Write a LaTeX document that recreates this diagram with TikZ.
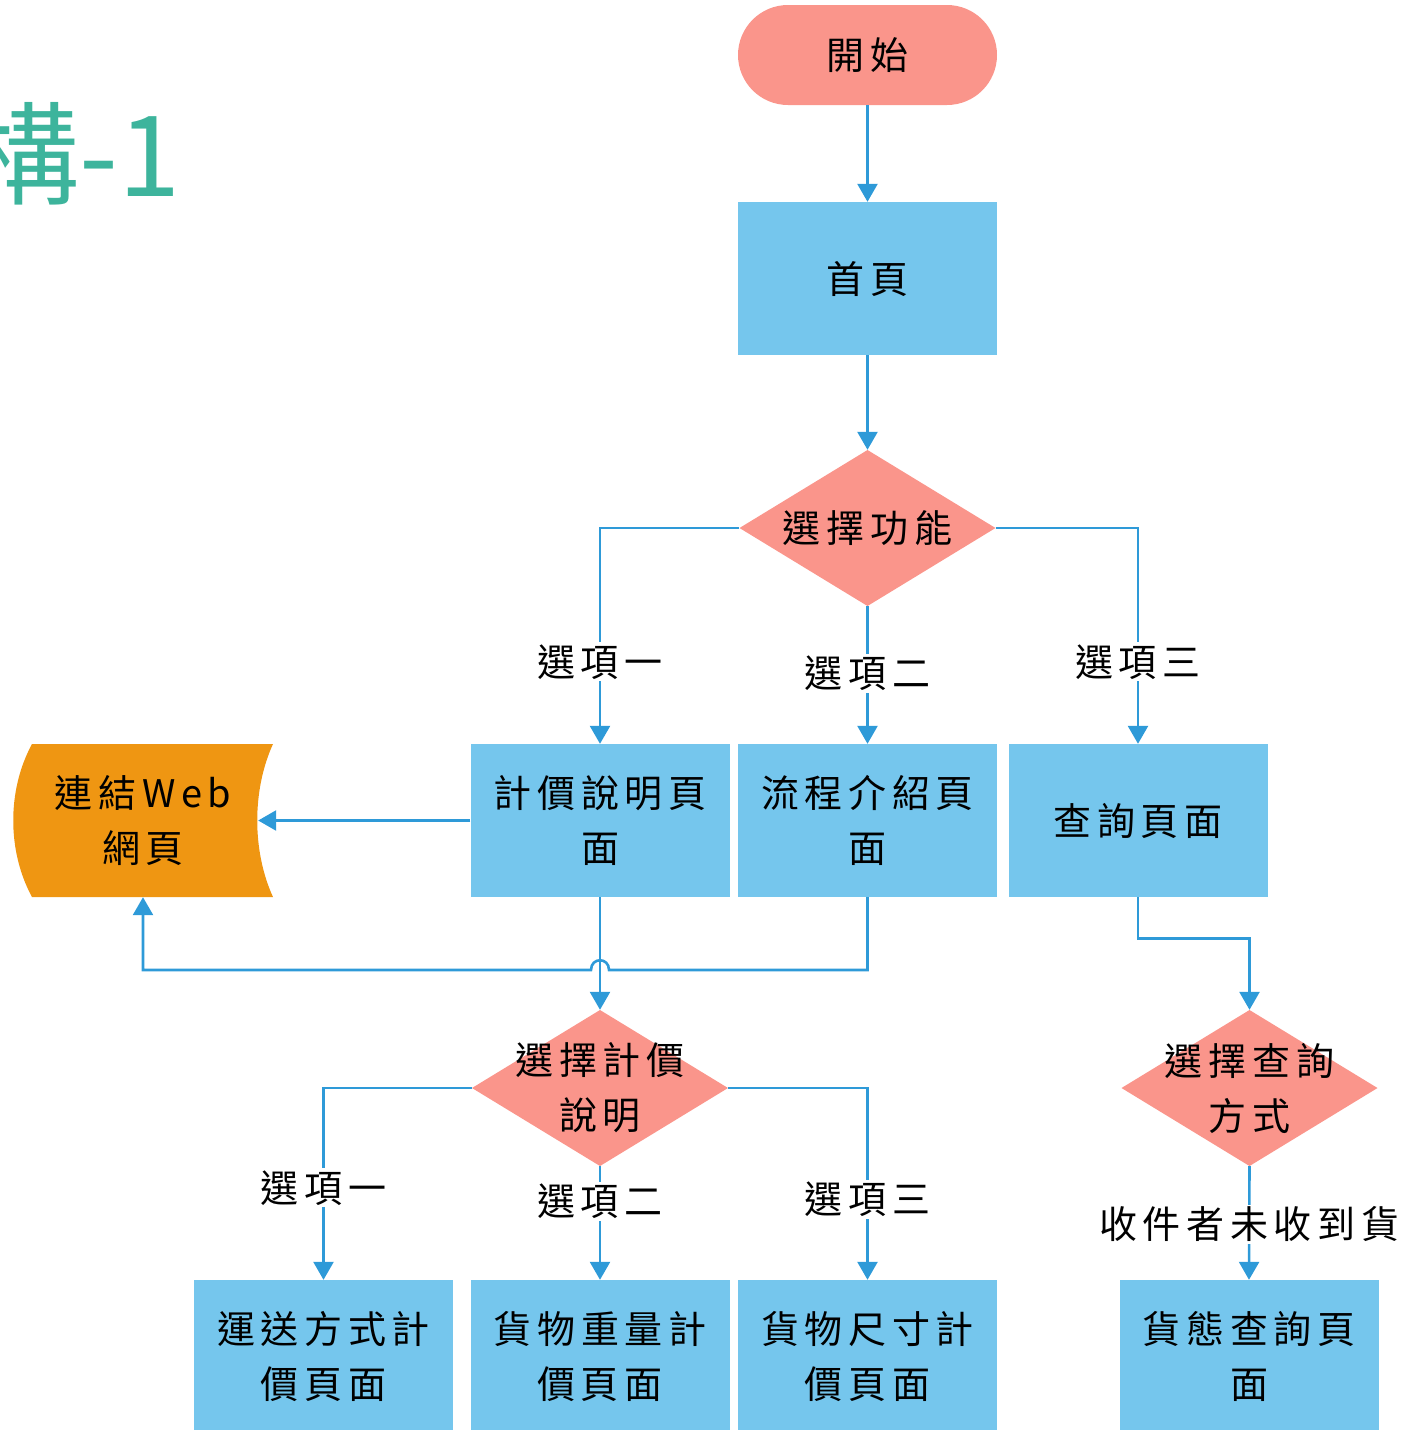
\documentclass[tikz,border=0pt]{standalone}
\usepackage{fontspec}
\newfontfamily\cjk[LetterSpace=15]{Noto Sans CJK TC}
\newfontfamily\cjktitle{Noto Sans CJK TC}
\usetikzlibrary{arrows.meta}
\definecolor{boxblue}{HTML}{75C6ED}
\definecolor{salmon}{HTML}{FA958B}
\definecolor{linkblue}{HTML}{2E9AD8}
\definecolor{weborange}{HTML}{EF9612}
\definecolor{titleteal}{HTML}{3DB49C}
\tikzset{
  txt/.style={font=\cjk\fontsize{38}{55}\selectfont, align=center, text=black},
  page/.style={txt, fill=boxblue, minimum width=259pt, minimum height=153pt, inner sep=0pt},
  terminal/.style={txt, fill=salmon, minimum width=259pt, minimum height=100pt, rounded corners=50pt, inner sep=0pt},
  decision/.style={txt, minimum width=256pt, minimum height=156pt, inner sep=0pt,
    path picture={\fill[salmon] (path picture bounding box.north) -- (path picture bounding box.east)
      -- (path picture bounding box.south) -- (path picture bounding box.west) -- cycle;}},
  weblink/.style={txt, minimum width=260pt, minimum height=153pt, inner sep=0pt,
    path picture={\fill[weborange] ([xshift=19pt]path picture bounding box.north west)
      -- (path picture bounding box.north east)
      .. controls ([xshift=-21pt,yshift=-46pt]path picture bounding box.north east)
        and ([xshift=-21pt,yshift=46pt]path picture bounding box.south east) .. (path picture bounding box.south east)
      -- ([xshift=19pt]path picture bounding box.south west)
      .. controls ([xshift=-6pt,yshift=46pt]path picture bounding box.south west)
        and ([xshift=-6pt,yshift=-46pt]path picture bounding box.north west) .. ([xshift=19pt]path picture bounding box.north west);}},
  opt/.style={txt, fill=white, inner sep=2pt},
  link/.style={draw=linkblue, line width=2.6pt, -{Triangle[length=18pt,width=20pt]}, color=linkblue}
}
\begin{document}
\begin{tikzpicture}[x=1pt,y=-1pt]
  \useasboundingbox (0,0) rectangle (1411,1430);
  \node[anchor=base east, text=titleteal, font=\cjktitle\fontsize{112}{112}\selectfont] (title) at (184,196) {構-1};

  \node[terminal] (start) at (867.5,55) {開始};
  \node[page] (home) at (867.5,278.5) {首頁};
  \node[decision] (choose) at (867.5,528) {選擇功能};
  \node[page] (price) at (600,820.5) {計價說明頁\\面};
  \node[page] (flow) at (867.5,820.5) {流程介紹頁\\面};
  \node[page] (query) at (1138,820.5) {查詢頁面};
  \node[weblink] (web) at (143,820.5) {連結Web\\網頁};
  \node[decision] (choose2) at (600,1088) {選擇計價\\說明};
  \node[decision] (choose3) at (1249.5,1088) {選擇查詢\\方式};
  \node[page] (ship) at (323.5,1356.5) {運送方式計\\價頁面};
  \node[page] (weight) at (600,1356.5) {貨物重量計\\價頁面};
  \node[page] (size) at (867.5,1356.5) {貨物尺寸計\\價頁面};
  \node[page] (track) at (1249,1356.5) {貨態查詢頁\\面};
  \coordinate (hop) at (600,970);

  \draw[link] (start) -- (home);
  \draw[link] (home) -- (choose);
  \draw[link] (choose.west) -| (price.north) node[opt, pos=0.81] {選項一};
  \draw[link] (choose.south) -- (flow.north) node[opt, pos=0.49] {選項二};
  \draw[link] (choose.east) -| (query.north) node[opt, pos=0.81] {選項三};
  \draw[link] (price.west) -- ([xshift=-15pt]web.east);
  \draw[link] (price.south) -- (choose2.north);
  \draw[link] (flow.south) |- ([xshift=9pt]hop) .. controls +(0,-13) and +(0,-13) .. ([xshift=-9pt]hop) -| (web.south);
  \draw[link] (query.south) -- ++(0,41) -| (choose3.north);
  \draw[link] (choose2.west) -| (ship.north) node[opt, pos=0.76] {選項一};
  \draw[link] (choose2.south) -- (weight.north) node[opt, pos=0.31] {選項二};
  \draw[link] (choose2.east) -| (size.north) node[opt, pos=0.79] {選項三};
  \draw[link] (choose3.south) -- (track.north) node[opt, pos=0.51] {收件者未收到貨};
\end{tikzpicture}
\end{document}
